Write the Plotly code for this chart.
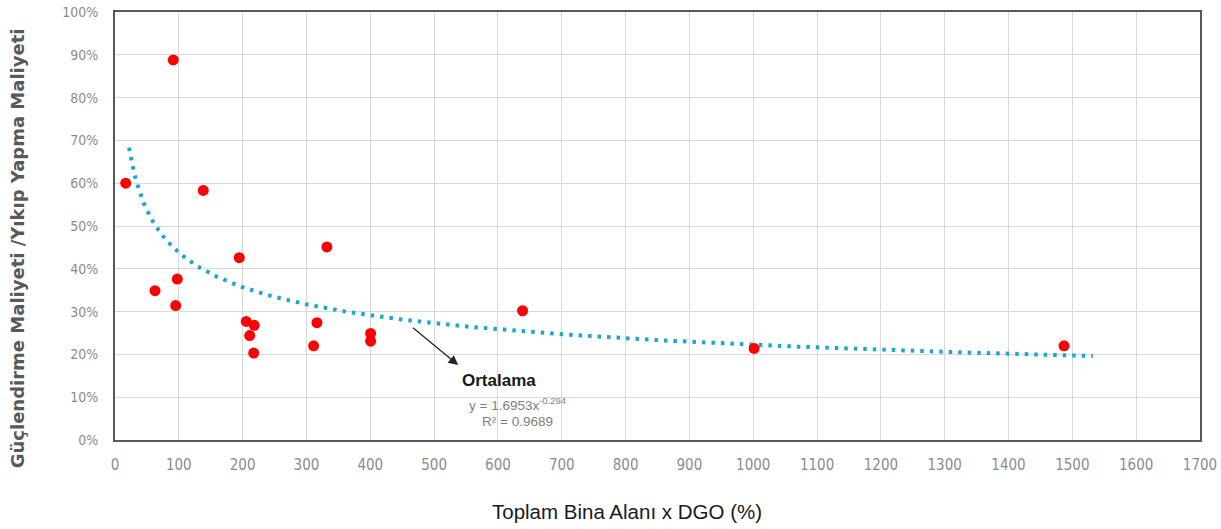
import numpy as np
import plotly.graph_objects as go

# ---- data ----
x_vals = [16.8, 91.3, 62.7, 97.6, 95.1, 138.3, 194.7, 332.0, 205.7, 218.2,
          211.0, 217.3, 316.4, 311.2, 400.5, 400.5, 638.6, 1001.4, 1487.0]
y_vals = [0.600, 0.888, 0.349, 0.376, 0.314, 0.583, 0.426, 0.451, 0.277, 0.268,
          0.244, 0.203, 0.274, 0.220, 0.249, 0.231, 0.302, 0.214, 0.220]

# power trendline as printed on the chart: y = a * x^b
trend_a = 1.6953
trend_b = -0.294
trend_r2 = 0.9689
trend_x_start = 22
trend_x_end = 1532

x_ticks = list(range(0, 1701, 100))
y_ticks = [i / 10 for i in range(0, 11)]
y_tick_labels = [f"{int(v * 100)}%" for v in y_ticks]

trend_x = np.linspace(trend_x_start, trend_x_end, 400)
trend_y = trend_a * trend_x ** trend_b

TICK_FONT = "Liberation Sans Narrow, DejaVu Sans Condensed, Arial Narrow, sans-serif"
FONT = "Liberation Sans, Arial, sans-serif"

fig = go.Figure()
fig.add_trace(go.Scatter(
    x=trend_x, y=trend_y, mode="lines",
    line=dict(color="#1aa7d6", width=4, dash="3.5px,6px"),
    hoverinfo="skip", showlegend=False))
fig.add_trace(go.Scatter(
    x=x_vals, y=y_vals, mode="markers",
    marker=dict(color="#ff0000", size=11, line=dict(width=0)),
    showlegend=False))

fig.update_layout(
    width=1221, height=529,
    margin=dict(l=115, r=21, t=12, b=89, autoexpand=False),
    paper_bgcolor="white", plot_bgcolor="white",
    font=dict(family=FONT),
    showlegend=False,
)
fig.update_xaxes(
    range=[0, 1700], tickvals=x_ticks, ticktext=[str(v) for v in x_ticks],
    showgrid=True, gridcolor="#d9d9d9", gridwidth=1,
    showline=True, linecolor="#595959", linewidth=2, mirror=True,
    zeroline=False, ticks="", ticklabelstandoff=10, automargin=False,
    tickfont=dict(family=TICK_FONT, size=15, color="#8c8c8c"),
)
fig.update_yaxes(
    range=[0, 1], tickvals=y_ticks, ticktext=y_tick_labels,
    showgrid=True, gridcolor="#d9d9d9", gridwidth=1,
    showline=True, linecolor="#595959", linewidth=2, mirror=True,
    zeroline=False, ticks="", ticklabelstandoff=12, automargin=False,
    tickfont=dict(family=TICK_FONT, size=14, color="#8c8c8c"),
)

annotations = [
    # y-axis title
    dict(xref="paper", yref="paper", x=-0.0899, y=0.449, xanchor="center", yanchor="middle",
         text="<b>Güçlendirme Maliyeti /Yıkıp Yapma Maliyeti</b>", textangle=-90,
         showarrow=False, font=dict(size=18, color="#595959", family="DejaVu Sans, sans-serif")),
    # x-axis title
    dict(xref="paper", yref="paper", x=0.472, y=-0.168, xanchor="center", yanchor="middle",
         text="Toplam Bina Alanı x DGO (%)", showarrow=False,
         font=dict(size=20.5, color="#1a1a1a", family=FONT)),
    # arrow from curve to label
    dict(xref="x", yref="y", axref="x", ayref="y",
         x=537.8, y=0.175, ax=464.5, ay=0.265, text="",
         showarrow=True, arrowhead=2, arrowsize=1.5, arrowwidth=1.3, arrowcolor="#262626"),
    dict(xref="x", yref="y", x=540.4, y=0.140, xanchor="left", yanchor="middle",
         text="<b>Ortalama</b>", showarrow=False,
         font=dict(size=17, color="#1a1a1a", family=FONT)),
    dict(xref="x", yref="y", x=630, y=0.085, xanchor="center", yanchor="middle",
         text=f"y = {trend_a:.4f}x<sup>{trend_b}</sup>", showarrow=False,
         font=dict(size=13.5, color="#7f7f7f", family=FONT)),
    dict(xref="x", yref="y", x=631, y=0.043, xanchor="center", yanchor="middle",
         text=f"R² = {trend_r2}", showarrow=False,
         font=dict(size=13.5, color="#7f7f7f", family=FONT)),
]
fig.update_layout(annotations=annotations)

fig.write_html("out.html")
